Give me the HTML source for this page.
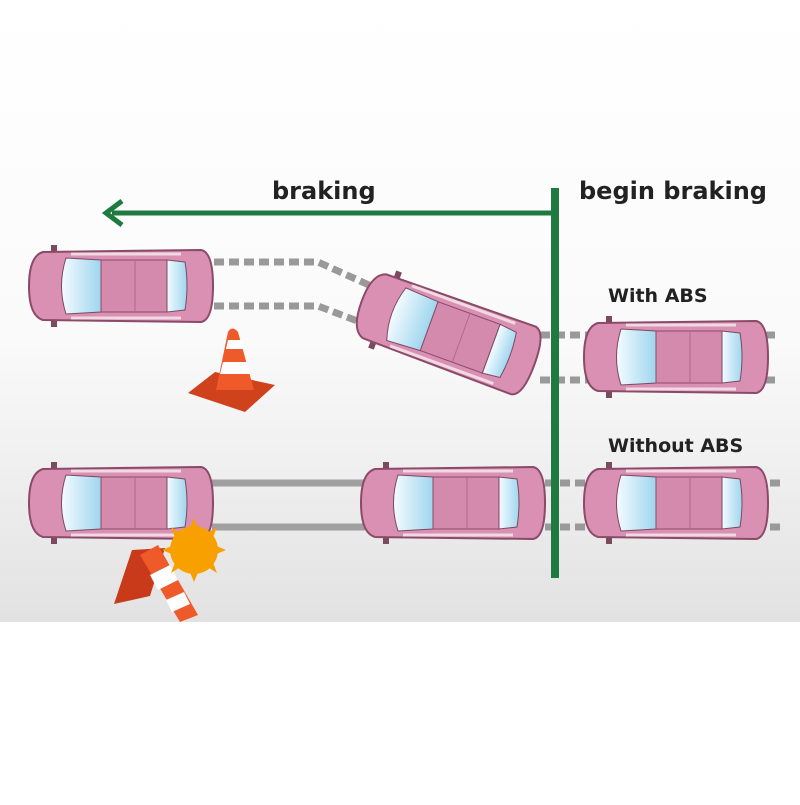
<!DOCTYPE html>
<html><head><meta charset="utf-8"><style>
body{margin:0;width:800px;height:800px;overflow:hidden;background:#fff;font-family:"Liberation Sans",sans-serif}
</style></head><body>
<svg width="800" height="800" viewBox="0 0 800 800" xmlns="http://www.w3.org/2000/svg">
<defs>
<linearGradient id="bg" x1="0" y1="0" x2="0" y2="1">
<stop offset="0" stop-color="#fff"/><stop offset="0.55" stop-color="#fafafa"/><stop offset="1" stop-color="#e2e2e2"/>
</linearGradient>
<linearGradient id="gl" x1="0" y1="0" x2="1" y2="0">
<stop offset="0" stop-color="#f4fbff"/><stop offset="1" stop-color="#9fd6ee"/>
</linearGradient>
<g id="car">
<rect x="-70" y="-41" width="6" height="8" fill="#7a4a60"/>
<rect x="-70" y="33" width="6" height="8" fill="#7a4a60"/>
<path d="M-78,-34 Q-92,-30 -92,0 Q-92,30 -78,34 L80,36 Q92,34 92,0 Q92,-34 80,-36 Z" fill="#d990b2" stroke="#8b4a68" stroke-width="2"/>
<path d="M-55,-28 Q-64,0 -55,28 L-20,26 L-20,-26 Z" fill="url(#gl)" stroke="#7a4a60" stroke-width="1"/>
<rect x="-20" y="-26" width="66" height="52" fill="#d48aac" stroke="#8b4a68" stroke-width="1"/>
<line x1="14" y1="-26" x2="14" y2="26" stroke="#b06a8a" stroke-width="1"/>
<path d="M46,-26 L64,-24 Q68,0 64,24 L46,26 Z" fill="url(#gl)" stroke="#7a4a60" stroke-width="1"/>
<path d="M-50,-32 L60,-32 M-50,32 L60,32" stroke="#f0d8e4" stroke-width="3"/>
</g>
</defs>
<rect x="0" y="0" width="800" height="622" fill="url(#bg)"/>
<g stroke="#999" stroke-width="7" fill="none" stroke-dasharray="10,5">
<path d="M214,262 L318,262 L380,290"/>
<path d="M214,306 L318,306 L360,322"/>
<path d="M540,335 L780,335"/><path d="M540,380 L780,380"/>
<path d="M545,483 L780,483"/><path d="M545,527 L780,527"/>
</g>
<g stroke="#a0a0a0" stroke-width="7"><line x1="212" y1="483" x2="365" y2="483"/><line x1="212" y1="527" x2="365" y2="527"/></g>
<use href="#car" transform="translate(121,286)"/>
<use href="#car" transform="translate(448,333) rotate(20)"/>
<use href="#car" transform="translate(676,357)"/>
<use href="#car" transform="translate(121,503)"/>
<use href="#car" transform="translate(453,503)"/>
<use href="#car" transform="translate(676,503)"/>
<polygon points="188,393 215,372 275,385 245,412" fill="#d0421c"/>
<path d="M216,390 L228,332 Q232,325 238,332 L254,390 Z" fill="#ee5a2a"/>
<polygon points="223,362 247,362 250,374 220,374" fill="#fff"/>
<polygon points="228,340 242,340 244,349 226,349" fill="#fff"/>
<polygon points="114,604 132,550 165,548 150,596" fill="#c93a1a"/>
<polygon points="140,555 158,545 198,615 180,622" fill="#ee5a2a"/>
<polygon points="150,575 170,565 178,580 158,590" fill="#fff"/>
<polygon points="166,600 184,592 190,604 172,612" fill="#fff"/>
<circle cx="194" cy="550" r="24" fill="#f7a000"/>
<g fill="#f7a000">
<polygon points="194,518 199,530 189,530"/><polygon points="194,582 199,570 189,570"/>
<polygon points="162,550 174,545 174,555"/><polygon points="226,550 214,545 214,555"/>
<polygon points="171,527 182,534 176,540"/><polygon points="217,573 206,566 212,560"/>
<polygon points="217,527 212,540 206,534"/><polygon points="171,573 176,560 182,566"/>
</g>
<rect x="551" y="188" width="8" height="390" fill="#1e7a3e"/>
<line x1="112" y1="213" x2="555" y2="213" stroke="#1e7a3e" stroke-width="5"/>
<polyline points="122,201 106,213 122,225" fill="none" stroke="#1e7a3e" stroke-width="5"/>
<g font-family="DejaVu Sans,sans-serif" font-weight="bold" fill="#222">
<text x="272" y="199" font-size="24">braking</text>
<text x="579" y="199" font-size="24">begin braking</text>
<text x="608" y="302" font-size="19">With ABS</text>
<text x="608" y="452" font-size="19">Without ABS</text>
</g>
</svg>
</body></html>
